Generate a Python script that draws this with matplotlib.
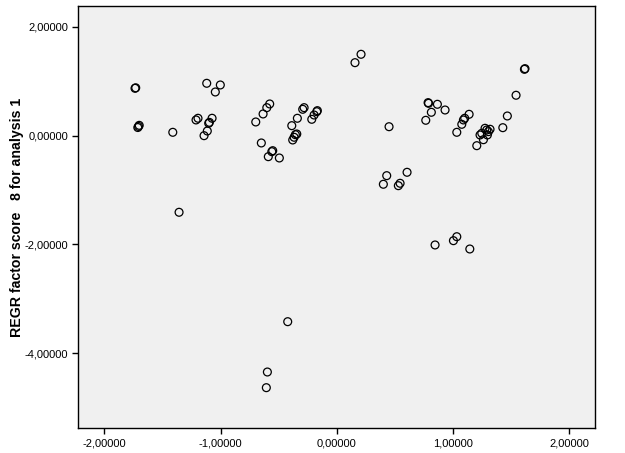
import matplotlib.pyplot as plt
from matplotlib.ticker import FuncFormatter

# factor scores (x = score 1, y = score 8)
score_x = [-1.736, -1.730, -1.712, -1.706, -1.700, -1.411, -1.357,
           -1.119, -1.002, -1.045, -1.211, -1.194, -1.073, -1.102, -1.096,
           -1.114, -1.142, -0.697, -0.634, -0.602, -0.577, -0.649, -0.589,
           -0.551, -0.559, -0.494, -0.387, -0.379, -0.367, -0.356, -0.344,
           -0.339, -0.293, -0.281, -0.215, -0.195, -0.172, -0.167,
           0.157, 0.209, 0.450, 0.786, 0.790, 0.866, 0.814, 0.766, 0.932,
           0.430, 0.401, 0.545, 0.530, 0.605, 1.033, 1.076, 1.090, 1.101,
           1.139, 1.205, 1.262, 1.233, 1.248, 1.276, 1.291, 1.305, 1.319,
           1.296, 1.429, 1.468, 1.543, 1.615, 1.620,
           0.846, 1.004, 1.033, 1.145, -0.422, -0.597, -0.606]
score_y = [0.871, 0.880, 0.150, 0.170, 0.190, 0.062, -1.408,
           0.963, 0.932, 0.803, 0.289, 0.320, 0.320, 0.228, 0.245,
           0.086, 0.000, 0.252, 0.399, 0.515, 0.583, -0.134, -0.386,
           -0.276, -0.294, -0.410, 0.184, -0.079, -0.029, 0.018, 0.031,
           0.320, 0.485, 0.515, 0.301, 0.380, 0.441, 0.460,
           1.342, 1.496, 0.165, 0.607, 0.595, 0.577, 0.430, 0.283, 0.472,
           -0.735, -0.893, -0.875, -0.919, -0.673, 0.062, 0.209, 0.289, 0.320,
           0.393, -0.184, -0.074, 0.013, 0.044, 0.136, 0.105, 0.074, 0.118,
           0.013, 0.147, 0.362, 0.743, 1.220, 1.232,
           -2.009, -1.930, -1.857, -2.083, -3.419, -4.344, -4.632]

x_ticks = [-2, -1, 0, 1, 2]
y_ticks = [2, 0, -2, -4]

plt.rcParams['font.family'] = ['Liberation Sans', 'DejaVu Sans']

fig = plt.figure(figsize=(6.25, 4.53), dpi=100)
ax = fig.add_axes([0.1253, 0.0545, 0.8272, 0.9323])
ax.set_facecolor('#F0F0F0')

ax.scatter(score_x, score_y, s=32, facecolors='none', edgecolors='black', linewidths=0.9)

ax.set_xlim(-2.224, 2.225)
ax.set_ylim(-5.379, 2.384)
ax.set_xticks(x_ticks)
ax.set_yticks(y_ticks)
fmt = FuncFormatter(lambda v, p: ('%.5f' % v).replace('.', ','))
ax.xaxis.set_major_formatter(fmt)
ax.yaxis.set_major_formatter(fmt)
ax.tick_params(direction='out', length=4, width=1, labelsize=8, colors='black')
for s in ax.spines.values():
    s.set_linewidth(1)

ax.set_ylabel('REGR factor score   8 for analysis 1', fontsize=10.2,
              fontweight='bold', labelpad=0.5)

fig.savefig('out.png', dpi=100)
